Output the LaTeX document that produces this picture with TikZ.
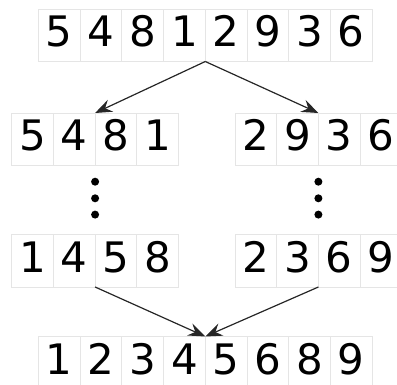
\documentclass[tikz,border=0pt]{standalone}
\usepackage{fontspec}
\setmainfont{DejaVu Sans}
\usetikzlibrary{arrows.meta}
\begin{document}
\begin{tikzpicture}[x=1pt,y=-1pt,
  cell/.style={draw=black!10, line width=0.9pt, minimum width=41.7pt,
    minimum height=52.5pt, inner sep=0pt, outer sep=0pt,
    text height=30.6pt, text depth=7.7pt,
    font=\fontsize{42}{42}\selectfont, anchor=north west},
  link/.style={draw=black!85, line width=1.2pt,
    -{Stealth[length=17pt,width=13pt,inset=6pt]}},
  dot/.style={circle, fill=black, inner sep=0pt, minimum size=8pt}]
\useasboundingbox (0,0) rectangle (397,385);
% unsorted input
\foreach \d [count=\i] in {5,4,8,1,2,9,3,6}
  \node[cell] (a\i) at ({38.5+(\i-1)*41.7},9) {\d};
% split halves
\foreach \d [count=\i] in {5,4,8,1}
  \node[cell] (b\i) at ({11.7+(\i-1)*41.7},113) {\d};
\foreach \d [count=\i] in {2,9,3,6}
  \node[cell] (c\i) at ({235+(\i-1)*41.7},113) {\d};
% sorted halves
\foreach \d [count=\i] in {1,4,5,8}
  \node[cell] (d\i) at ({11.7+(\i-1)*41.7},234.5) {\d};
\foreach \d [count=\i] in {2,3,6,9}
  \node[cell] (e\i) at ({235+(\i-1)*41.7},234.5) {\d};
% merged result
\foreach \d [count=\i] in {1,2,3,4,5,6,8,9}
  \node[cell] (f\i) at ({38.5+(\i-1)*41.7},336.5) {\d};
% vertical ellipses
\foreach \y [count=\k] in {181.7,198.3,214.6} {
  \node[dot] (l\k) at (95.1,\y) {};
  \node[dot] (r\k) at (318.4,\y) {};
}
% split and merge arrows
\draw[link] (a4.south east) -- (b2.north east);
\draw[link] (a4.south east) -- (c2.north east);
\draw[link] (d2.south east) -- (f4.north east);
\draw[link] (e2.south east) -- (f4.north east);
\end{tikzpicture}
\end{document}
